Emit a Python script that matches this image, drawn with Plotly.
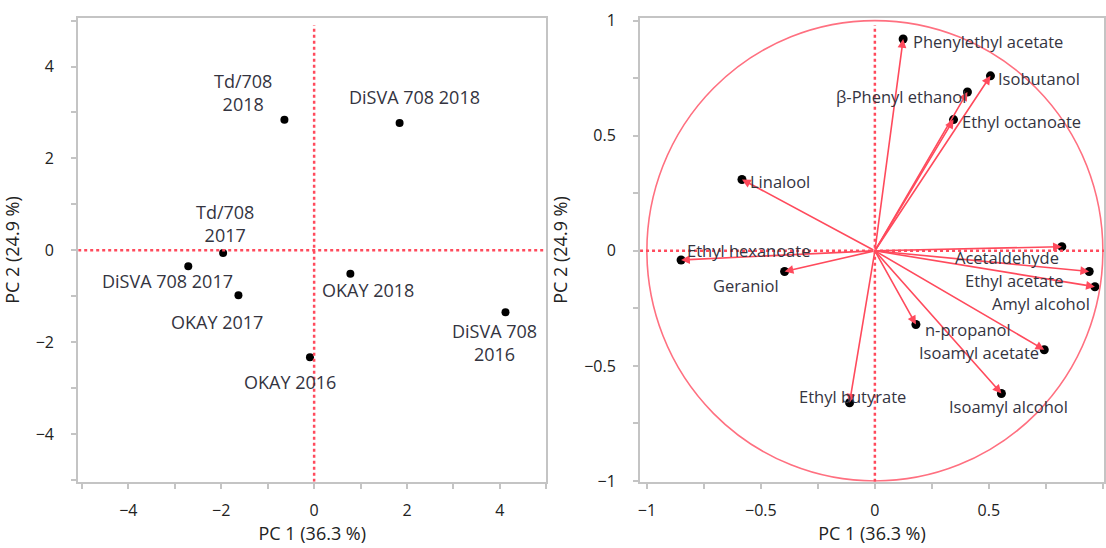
import plotly.graph_objects as go

# ---------------- data: scores (left panel) ----------------
sample_names = ["Td/708 2018", "DiSVA 708 2018", "Td/708 2017", "DiSVA 708 2017",
                "OKAY 2018", "OKAY 2017", "DiSVA 708 2016", "OKAY 2016"]
sample_pc1 = [-0.64, 1.84, -1.96, -2.71, 0.78, -1.63, 4.12, -0.09]
sample_pc2 = [2.84, 2.77, -0.06, -0.35, -0.51, -0.98, -1.35, -2.33]
sample_labels = ["Td/708<br>2018", "DiSVA 708 2018", "Td/708<br>2017", "DiSVA 708 2017",
                 "OKAY 2018", "OKAY 2017", "DiSVA 708<br>2016", "OKAY 2016"]
sample_label_x = [-1.53, 2.16, -1.92, -3.15, 1.16, -2.09, 3.89, -0.53]
sample_label_y = [3.43, 3.33, 0.59, -0.66, -0.87, -1.56, -2.02, -2.86]

# ---------------- data: loadings (right panel) ----------------
var_names = ["Phenylethyl acetate", "Isobutanol", "β-Phenyl ethanol", "Ethyl octanoate",
             "Linalool", "Ethyl hexanoate", "Acetaldehyde", "Ethyl acetate",
             "Amyl alcohol", "Geraniol", "n-propanol", "Isoamyl acetate",
             "Isoamyl alcohol", "Ethyl butyrate"]
var_pc1 = [0.124, 0.507, 0.406, 0.345, -0.583, -0.850, 0.820, 0.940,
           0.965, -0.396, 0.180, 0.743, 0.555, -0.111]
var_pc2 = [0.92, 0.76, 0.69, 0.57, 0.31, -0.04, 0.018, -0.09,
           -0.156, -0.09, -0.32, -0.43, -0.62, -0.66]
var_label_x = [0.162, 0.537, 0.402, 0.379, -0.550, -0.828, 0.814, 0.829,
               0.949, -0.415, 0.214, 0.724, 0.851, 0.139]
var_label_y = [0.908, 0.749, 0.669, 0.561, 0.300, 0.003, -0.031, -0.129,
               -0.229, -0.149, -0.344, -0.443, -0.677, -0.631]
var_label_anchor = ["left", "left", "right", "left", "left", "left", "right", "right",
                    "right", "right", "left", "right", "right", "right"]

left_xticks = [-4, -2, 0, 2, 4]
left_yticks = [-4, -2, 0, 2, 4]
right_xticks = [-1, -0.5, 0, 0.5]
right_yticks = [-1, -0.5, 0, 0.5, 1]
right_tick_text_x = ["−1", "−0.5", "0", "0.5"]
right_tick_text_y = ["−1", "−0.5", "0", "0.5", "1"]

FONT = "Open Sans"
RED = "#ff4a5c"
CIRCLE = "#ff7080"
TXT = "#34343f"
FRAME = "#c4c4c4"

fig = go.Figure()

fig.add_trace(go.Scatter(x=sample_pc1, y=sample_pc2, mode="markers",
                         marker=dict(color="black", size=8),
                         xaxis="x", yaxis="y", showlegend=False, hoverinfo="text",
                         text=sample_names))

fig.add_trace(go.Scatter(x=var_pc1, y=var_pc2, mode="markers",
                         marker=dict(color="black", size=9),
                         xaxis="x2", yaxis="y2", showlegend=False, hoverinfo="text",
                         text=var_names))

annotations = []
for lx, ly, t in zip(sample_label_x, sample_label_y, sample_labels):
    annotations.append(dict(x=lx, y=ly, xref="x", yref="y", text=t, showarrow=False,
                            xanchor="center", yanchor="middle",
                            font=dict(family=FONT, size=18, color=TXT)))

for vx, vy in zip(var_pc1, var_pc2):
    annotations.append(dict(x=vx, y=vy, xref="x2", yref="y2", ax=0, ay=0,
                            axref="x2", ayref="y2", text="", showarrow=True,
                            arrowhead=2, arrowsize=1.1, arrowwidth=1.6,
                            arrowcolor=RED, standoff=0))

for lx, ly, t, a in zip(var_label_x, var_label_y, var_names, var_label_anchor):
    annotations.append(dict(x=lx, y=ly, xref="x2", yref="y2", text=t, showarrow=False,
                            xanchor=a, yanchor="middle", borderpad=0,
                            font=dict(family=FONT, size=16.5, color=TXT)))

shapes = [
    dict(type="line", xref="x", yref="y", x0=0, x1=0, y0=-5.04, y1=4.9,
         line=dict(color=RED, width=2.5, dash="dot")),
    dict(type="line", xref="x", yref="y", x0=-5.08, x1=5.0, y0=0, y1=0,
         line=dict(color=RED, width=2.5, dash="dot")),
    dict(type="circle", xref="x2", yref="y2", x0=-1, x1=1, y0=-1, y1=1,
         line=dict(color=CIRCLE, width=1.6)),
    dict(type="line", xref="x2", yref="y2", x0=0, x1=0, y0=-1.003, y1=0.98,
         line=dict(color=RED, width=2.5, dash="dot")),
    dict(type="line", xref="x2", yref="y2", x0=-1.03, x1=1.005, y0=0, y1=0,
         line=dict(color=RED, width=2.5, dash="dot")),
]

axis_common = dict(showline=True, linecolor=FRAME, linewidth=2, mirror=True,
                   showgrid=False, zeroline=False, ticks="outside", ticklen=5,
                   tickcolor=FRAME, tickwidth=1.5, automargin=False,
                   tickfont=dict(family=FONT, size=16, color="#222222"),
                   title_font=dict(family=FONT, size=18, color="#222222"))

fig.update_layout(
    width=1106, height=548,
    margin=dict(l=0, r=0, t=0, b=0),
    paper_bgcolor="white", plot_bgcolor="white",
    showlegend=False,
    xaxis=dict(domain=[0.0707, 0.494], range=[-5.08, 5.0], anchor="y",
               tickvals=left_xticks, ticklabelstandoff=8,
               minor=dict(dtick=1, tick0=0, ticks="outside", ticklen=5, tickcolor=FRAME),
               title=dict(text="PC 1 (36.3 %)", standoff=8), **axis_common),
    yaxis=dict(domain=[0.121, 0.9666], range=[-5.04, 5.05], anchor="x",
               tickvals=left_yticks, ticklabelstandoff=14,
               minor=dict(dtick=1, tick0=0, ticks="outside", ticklen=5, tickcolor=FRAME),
               title=dict(text="PC 2 (24.9 %)", standoff=12), **axis_common),
    xaxis2=dict(domain=[0.5787, 0.9982], range=[-1.03, 1.005], anchor="y2",
                tickvals=right_xticks, ticktext=right_tick_text_x, ticklabelstandoff=8,
                minor=dict(dtick=0.25, tick0=0, ticks="outside", ticklen=5, tickcolor=FRAME),
                title=dict(text="PC 1 (36.3 %)", standoff=8), **axis_common),
    yaxis2=dict(domain=[0.121, 0.9666], range=[-1.003, 1.01], anchor="x2",
                tickvals=right_yticks, ticktext=right_tick_text_y, ticklabelstandoff=14,
                minor=dict(dtick=0.25, tick0=0, ticks="outside", ticklen=5, tickcolor=FRAME),
                title=dict(text="PC 2 (24.9 %)", standoff=12), **axis_common),
    annotations=annotations,
    shapes=shapes,
)

fig.write_html("out.html", config={"displayModeBar": False},
               post_script="document.body.style.margin='0px';")
